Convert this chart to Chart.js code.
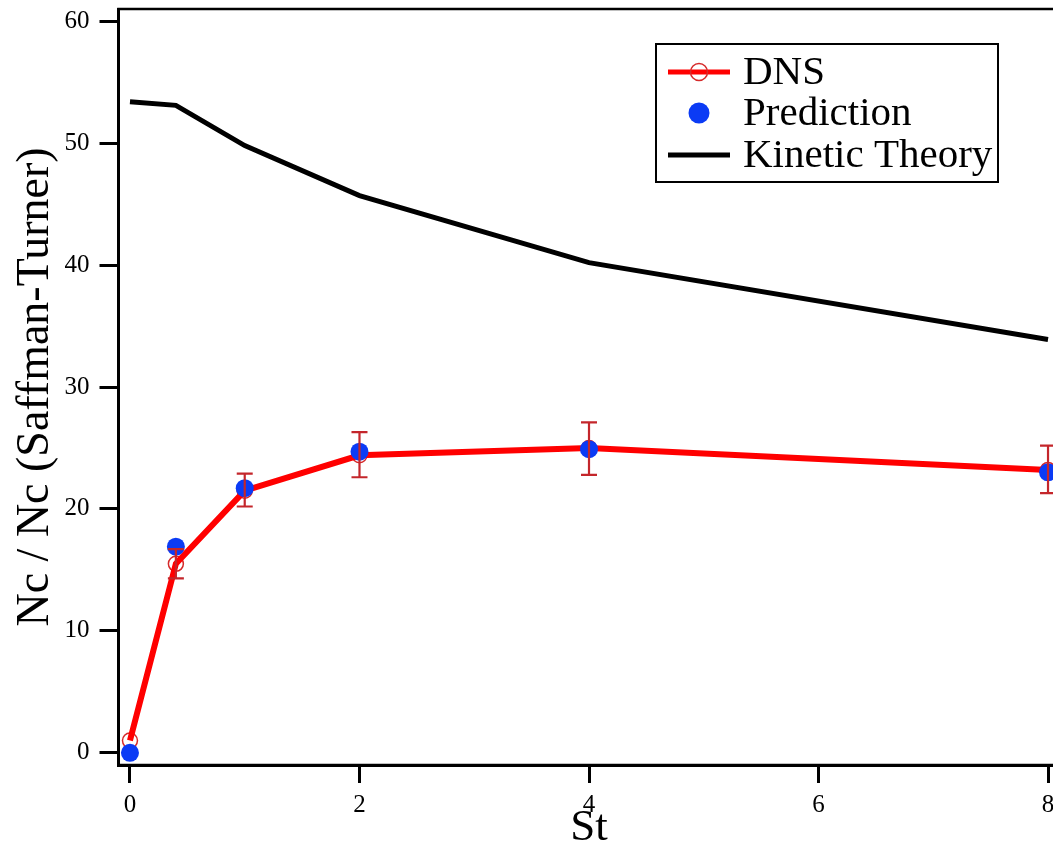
<!DOCTYPE html>
<html>
<head>
<meta charset="utf-8">
<script src="https://cdn.jsdelivr.net/npm/chart.js@4.4.1/dist/chart.umd.min.js"></script>
<style>
  html, body { margin: 0; padding: 0; background: #fff; }
  .wrap { width: 1053px; height: 846px; overflow: hidden; position: relative; }
  .wrap canvas { position: absolute; left: 0; top: 0; }
</style>
</head>
<body>
<div class="wrap">
  <canvas id="nc-chart" width="1075" height="860" style="width:1075px;height:860px"></canvas>
</div>
<script>
// Stokes numbers and collision kernel ratios
const stValues = [0, 0.4, 1, 2, 4, 8];
const kineticTheory = [53.4, 53.1, 49.8, 45.7, 40.2, 33.9];
const dnsValues = [1.0, 15.5, 21.5, 24.4, 25.0, 23.2];
const dnsErrLow = [null, 14.3, 20.2, 22.6, 22.8, 21.3];
const dnsErrHigh = [null, 16.7, 22.9, 26.3, 27.1, 25.2];
const predictionValues = [0.0, 16.9, 21.7, 24.7, 24.9, 23.0];

const xTicks = [0, 2, 4, 6, 8];
const yTicks = [0, 10, 20, 30, 40, 50, 60];
const legendLabels = ['DNS', 'Prediction', 'Kinetic Theory'];

const SERIF = "'Liberation Serif', 'DejaVu Serif', serif";

function toPoints(ys) {
  return stValues.map((x, i) => ({ x: x, y: ys[i] }));
}

// error bars for the DNS series
const errorBars = {
  id: 'errorBars',
  afterDatasetsDraw(chart) {
    const { ctx, scales: { x, y } } = chart;
    ctx.save();
    ctx.strokeStyle = '#c4262b';
    ctx.lineWidth = 2.2;
    stValues.forEach((st, i) => {
      if (dnsErrLow[i] == null) return;
      const px = x.getPixelForValue(st);
      const lo = y.getPixelForValue(dnsErrLow[i]);
      const hi = y.getPixelForValue(dnsErrHigh[i]);
      ctx.beginPath();
      ctx.moveTo(px, lo); ctx.lineTo(px, hi);
      ctx.moveTo(px - 8, lo); ctx.lineTo(px + 8, lo);
      ctx.moveTo(px - 8, hi); ctx.lineTo(px + 8, hi);
      ctx.stroke();
    });
    ctx.restore();
  }
};

// box around the plot + legend in the top right
const frameAndLegend = {
  id: 'frameAndLegend',
  afterDraw(chart) {
    const { ctx, chartArea: a } = chart;
    ctx.save();
    ctx.strokeStyle = '#000';
    ctx.lineWidth = 2.5;
    ctx.strokeRect(a.left, a.top, a.right - a.left, a.bottom - a.top);

    // legend box
    const bx = 656, by = 44, bw = 342, bh = 138;
    ctx.fillStyle = '#fff';
    ctx.fillRect(bx, by, bw, bh);
    ctx.lineWidth = 2;
    ctx.strokeRect(bx, by, bw, bh);

    const rows = [72, 113, 155];
    const sx0 = 668, sx1 = 730, sc = 699;
    // DNS: red line + open circle
    ctx.strokeStyle = '#ff0000';
    ctx.lineWidth = 5;
    ctx.beginPath(); ctx.moveTo(sx0, rows[0]); ctx.lineTo(sx1, rows[0]); ctx.stroke();
    ctx.strokeStyle = '#d52a2a';
    ctx.lineWidth = 1.5;
    ctx.beginPath(); ctx.arc(sc, rows[0], 8.5, 0, Math.PI * 2); ctx.stroke();
    // Prediction: blue dot
    ctx.fillStyle = '#0b3bf5';
    ctx.beginPath(); ctx.arc(sc, rows[1], 10.5, 0, Math.PI * 2); ctx.fill();
    // Kinetic theory: black line
    ctx.strokeStyle = '#000';
    ctx.lineWidth = 5;
    ctx.beginPath(); ctx.moveTo(sx0, rows[2]); ctx.lineTo(sx1, rows[2]); ctx.stroke();

    ctx.fillStyle = '#000';
    ctx.font = '41px ' + SERIF;
    ctx.textBaseline = 'middle';
    ctx.textAlign = 'left';
    legendLabels.forEach((t, i) => ctx.fillText(t, 743, rows[i] + 1));
    ctx.restore();
  }
};

new Chart(document.getElementById('nc-chart'), {
  type: 'scatter',
  data: {
    datasets: [
      {
        label: 'Kinetic Theory',
        data: toPoints(kineticTheory),
        showLine: true,
        borderColor: '#000',
        borderWidth: 5,
        pointRadius: 0,
        tension: 0,
        order: 5
      },
      {
        label: 'DNS markers',
        data: toPoints(dnsValues),
        showLine: false,
        pointStyle: 'circle',
        pointRadius: 7.5,
        pointBorderWidth: 1.5,
        pointBorderColor: '#d52a2a',
        pointBackgroundColor: 'rgba(0,0,0,0)',
        order: 4
      },
      {
        label: 'DNS',
        data: toPoints(dnsValues),
        showLine: true,
        borderColor: '#ff0000',
        borderWidth: 6,
        pointRadius: 0,
        tension: 0,
        order: 3
      },
      {
        label: 'Prediction',
        data: toPoints(predictionValues),
        showLine: false,
        pointRadius: 9,
        pointBorderWidth: 0,
        pointBackgroundColor: '#0b3bf5',
        order: 1
      }
    ]
  },
  options: {
    responsive: false,
    animation: false,
    layout: { padding: { left: 0, top: 7, right: 15.5, bottom: 0 } },
    plugins: {
      legend: { display: false },
      tooltip: { enabled: false }
    },
    scales: {
      x: {
        type: 'linear',
        min: -0.1,
        max: 8.1,
        afterBuildTicks: s => { s.ticks = xTicks.map(v => ({ value: v })); },
        afterFit: s => { s.height = 95; s.paddingLeft = 0; s.paddingRight = 0; },
        grid: { drawOnChartArea: false, drawTicks: true, tickLength: 18, tickWidth: 3, tickColor: '#000' },
        border: { display: true, color: '#000', width: 3 },
        ticks: { color: '#000', padding: 7, maxRotation: 0, font: { family: SERIF, size: 25 } },
        title: {
          display: true,
          text: 'St',
          color: '#000',
          font: { family: SERIF, size: 45 },
          padding: { top: 0, bottom: 5 }
        }
      },
      y: {
        type: 'linear',
        min: -1,
        max: 61,
        afterBuildTicks: s => { s.ticks = yTicks.map(v => ({ value: v })); },
        afterFit: s => { s.width = 118.5; s.paddingTop = 0; s.paddingBottom = 0; },
        grid: { drawOnChartArea: false, drawTicks: true, tickLength: 19, tickWidth: 3, tickColor: '#000' },
        border: { display: true, color: '#000', width: 3 },
        ticks: { color: '#000', padding: 10, font: { family: SERIF, size: 25 } },
        title: {
          display: true,
          text: 'Nc / Nc (Saffman-Turner)',
          color: '#000',
          font: { family: SERIF, size: 46 },
          padding: { top: 8, bottom: 0 }
        }
      }
    }
  },
  plugins: [errorBars, frameAndLegend]
});
</script>
</body>
</html>
